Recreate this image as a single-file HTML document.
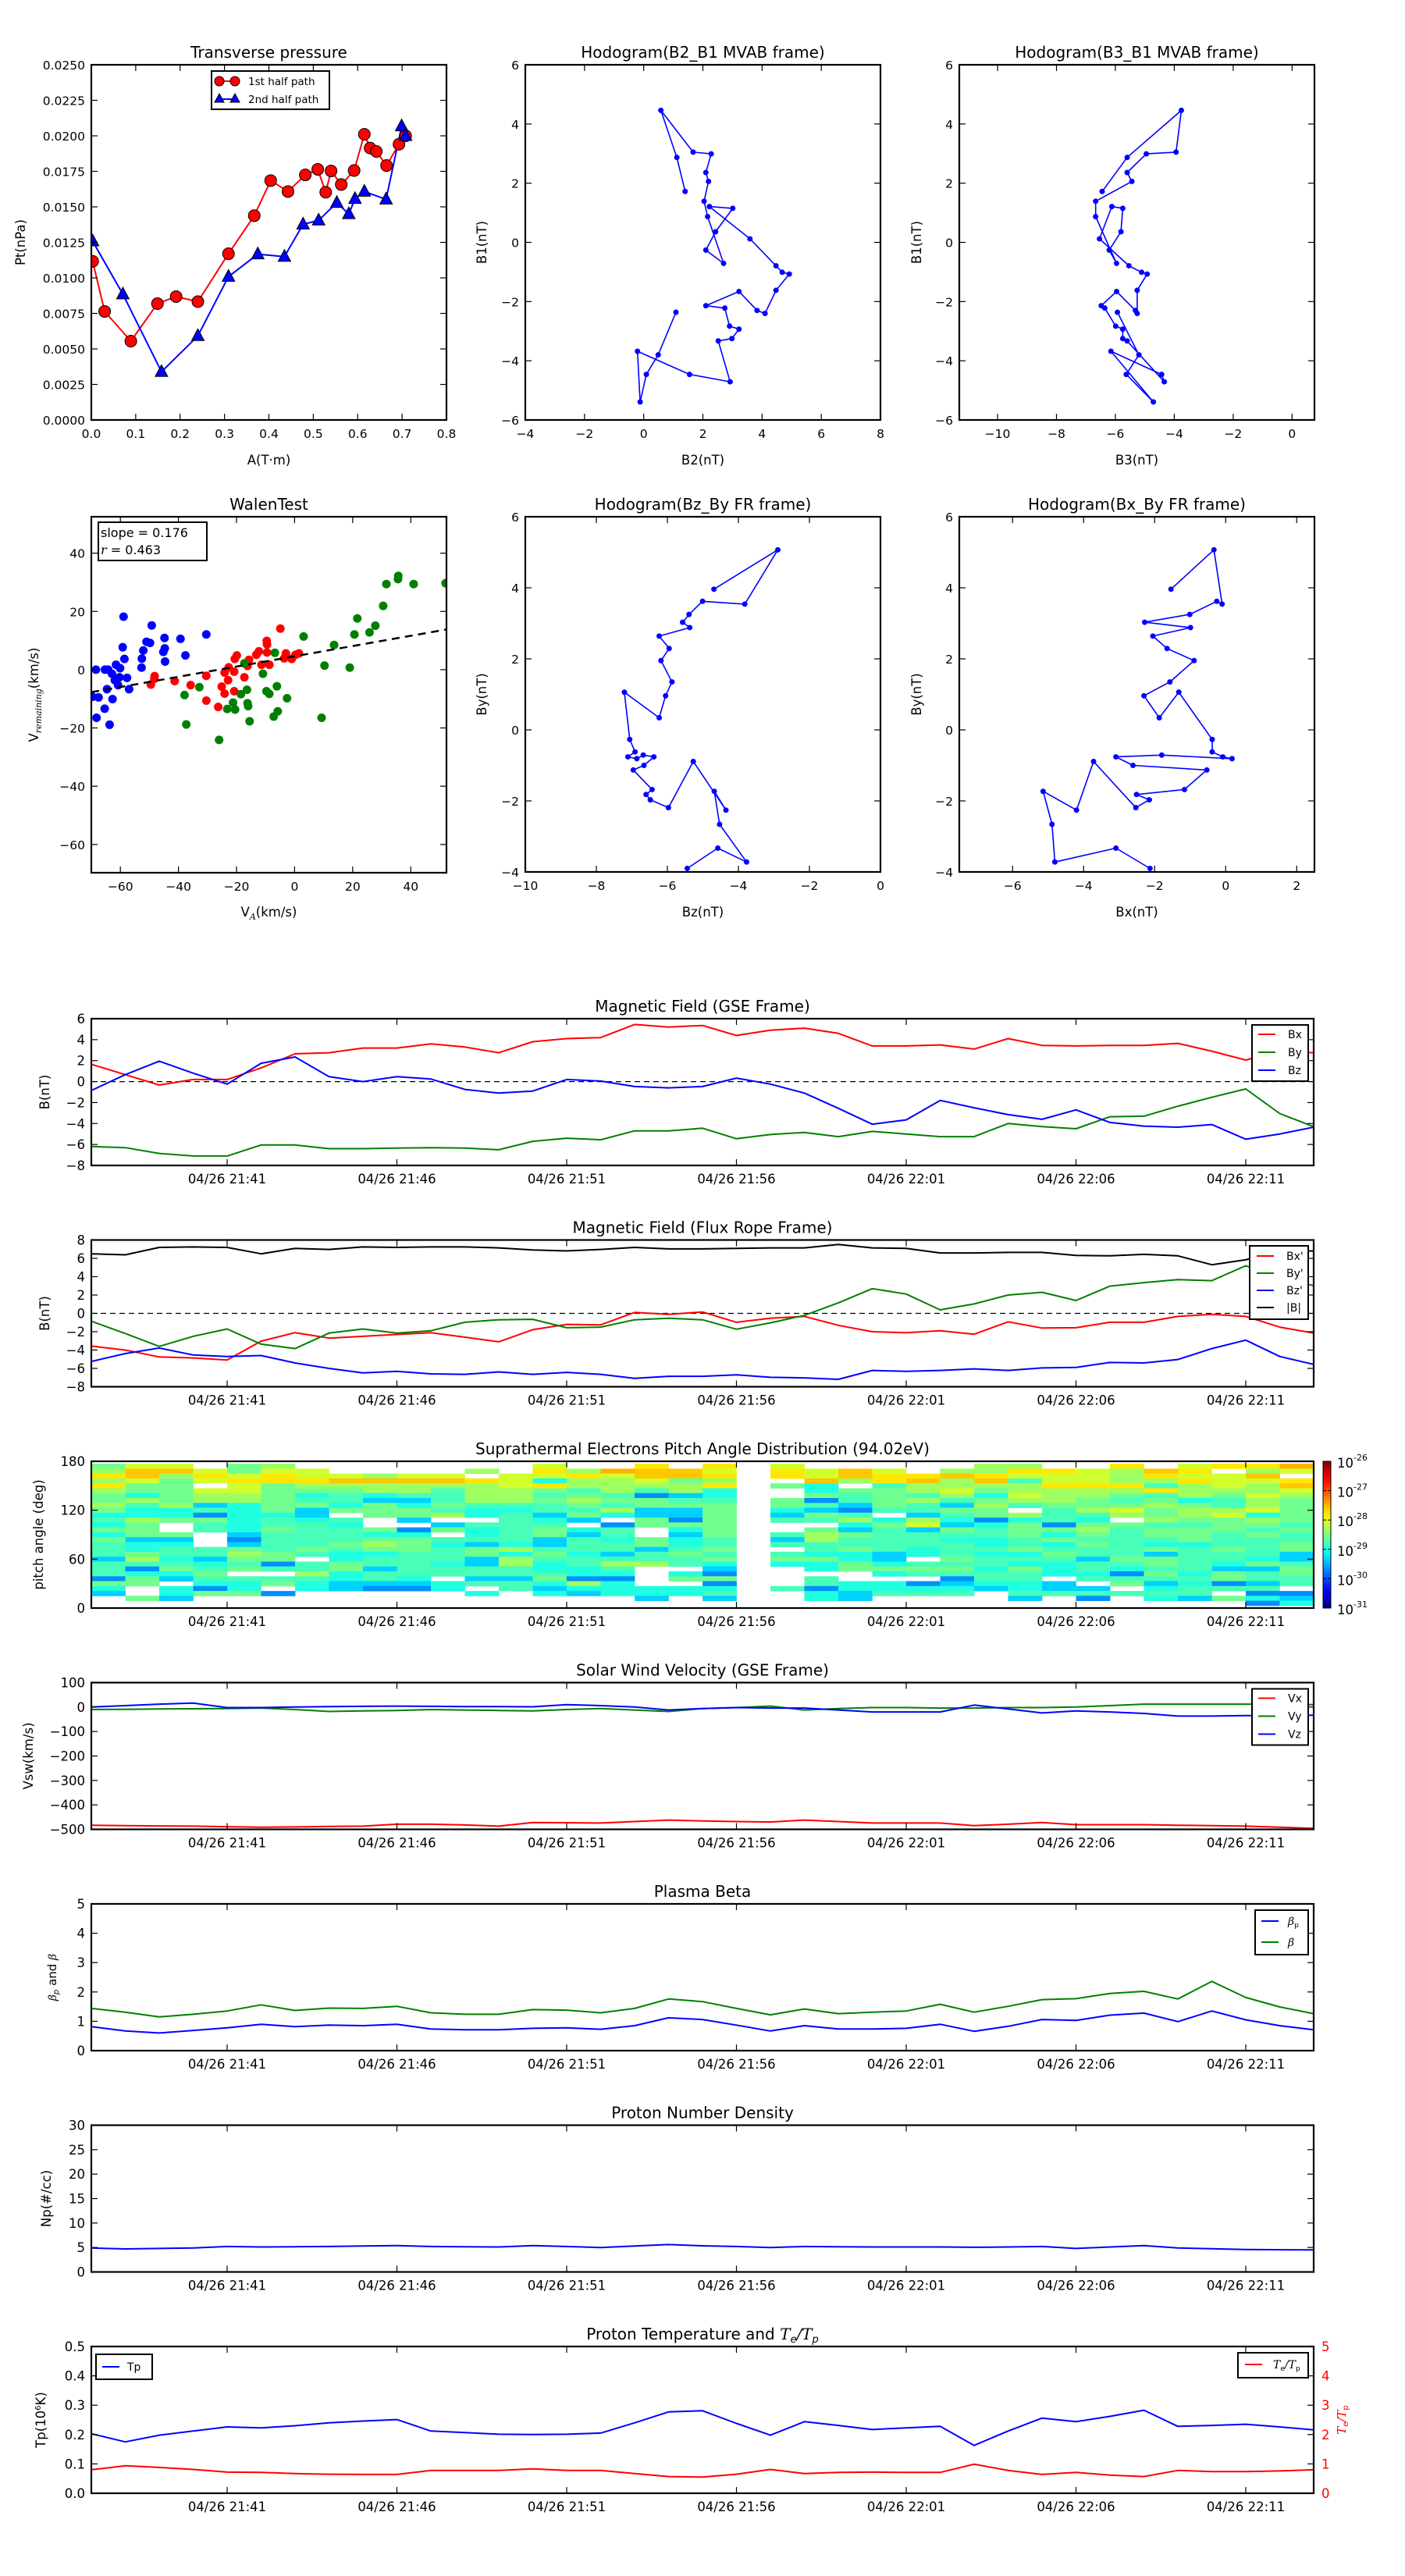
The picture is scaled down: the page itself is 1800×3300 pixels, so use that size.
<!DOCTYPE html>
<html><head><meta charset="utf-8">
<style>
body{margin:0;background:#fff}
svg{display:block;font-family:"DejaVu Sans","Liberation Sans",sans-serif}
</style></head>
<body>
<svg id="fig" width="1800" height="3300" viewBox="0 0 1800 3300"></svg>
<script>
// ---------------- DATA ----------------
const ptA1=[0.003,0.030,0.089,0.149,0.191,0.240,0.309,0.367,0.404,0.443,0.482,0.510,0.528,0.540,0.563,0.592,0.615,0.628,0.642,0.665,0.693,0.708];
const ptP1=[0.01117,0.00764,0.00555,0.00819,0.00868,0.00833,0.0117,0.01438,0.01685,0.01608,0.01725,0.01764,0.01603,0.01753,0.01657,0.01756,0.02011,0.01914,0.0189,0.01791,0.01941,0.02];
const ptA2=[0.003,0.071,0.158,0.240,0.309,0.375,0.435,0.477,0.512,0.553,0.580,0.594,0.615,0.664,0.699,0.708];
const ptP2=[0.01258,0.00885,0.00339,0.00592,0.01009,0.01167,0.0115,0.01377,0.01405,0.01529,0.0145,0.01557,0.01608,0.01553,0.02068,0.02];

const mvB1=[-2.36,-3.8,-4.46,-5.39,-3.68,-4.46,-4.71,-3.33,-3.25,-2.93,-2.83,-2.22,-2.14,-1.66,-2.3,-2.4,-1.62,-1.07,-1.01,-0.79,0.12,1.21,1.15,0.36,-0.26,-0.71,0.87,1.39,2.06,2.36,2.99,3.05,4.46,2.87,1.72];
const mvB2=[1.09,0.49,0.09,-0.12,-0.21,1.55,2.92,2.52,2.98,3.22,2.9,2.74,2.1,3.22,3.83,4.1,4.47,4.92,4.68,4.47,3.59,2.22,3.01,2.43,2.1,2.7,2.16,2.04,2.19,2.1,2.28,1.67,0.58,1.12,1.4];
const mvB3=[-5.93,-5.2,-5.63,-4.71,-6.15,-4.43,-4.34,-5.6,-5.75,-5.75,-5.99,-6.36,-6.48,-5.96,-5.32,-5.26,-5.26,-4.92,-5.11,-5.54,-6.54,-6.12,-5.75,-5.81,-6.21,-5.96,-6.67,-6.67,-5.44,-5.6,-4.95,-3.94,-3.76,-5.6,-6.45];

const frHx=[-2.13,-3.09,-4.81,-4.89,-5.14,-4.2,-3.72,-2.53,-2.15,-2.51,-1.16,-0.53,-2.61,-3.09,-1.8,0.18,-0.08,-0.38,-0.38,-1.32,-1.87,-2.3,-1.57,-0.89,-1.65,-2.05,-0.99,-2.28,-1.01,-0.25,-0.1,-0.33,-1.54];
const frHy=[-3.9,-3.33,-3.72,-2.66,-1.73,-2.26,-0.89,-2.19,-1.97,-1.82,-1.68,-1.13,-1.0,-0.76,-0.71,-0.81,-0.76,-0.62,-0.27,1.06,0.34,0.96,1.35,1.95,2.29,2.64,2.88,3.03,3.25,3.62,3.54,5.07,3.96];
const frHz=[-5.44,-4.58,-3.77,-4.53,-4.68,-4.35,-5.27,-5.97,-6.48,-6.6,-6.43,-6.96,-6.66,-6.38,-6.68,-6.86,-7.11,-6.91,-7.06,-7.21,-6.23,-6.05,-5.87,-6.18,-5.95,-6.23,-5.37,-5.57,-5.39,-5.01,-3.82,-2.89,-4.69];

const walenBlueX=[-68.4,-69.6,-67.5,-68.2,-65.4,-63.7,-62.7,-64.6,-65.3,-64.2,-62.9,-61.5,-60.1,-61.9,-60.8,-60.3,-57.7,-57,-58.6,-59.2,-58.9,-52.7,-52.6,-52.1,-51,-49.8,-49.2,-45.2,-44.7,-44.8,-44.6,-39.3,-37.6,-30.4];
const walenBlueY=[0,-9.3,-9.5,-16.5,-13.4,-18.9,-10.1,-6.7,0,0,-1.4,1.7,0.5,-3.6,-5.3,-2.6,-2.8,-6.7,3.7,7.7,18.2,0.7,3.8,6.6,9.6,9.2,15.2,6.1,7.3,10.9,2.8,10.6,4.9,12.1];
const walenRedX=[-49.5,-48.2,-48.3,-41.3,-35.8,-30.4,-30.4,-26.3,-25.1,-24.1,-24.1,-22.9,-22.7,-20.8,-20.8,-20.6,-19.9,-17.3,-16.2,-15.7,-13.2,-12.3,-11.4,-9.6,-9.5,-9.5,-8.7,-4.9,-3.6,-3,-1,0.3,1.5];
const walenRedY=[-5.1,-2.2,-3.1,-3.9,-5.3,-2.1,-10.6,-12.8,-5.8,-8.2,-1.0,-3.6,0.8,-7.4,-0.7,3.7,4.9,-2.6,1.3,3.4,5.1,6.3,1.7,9.9,8.7,5.9,1.7,14.1,3.9,5.6,3.7,5.1,5.6];
const walenGreenX=[-37.9,-37.3,-32.8,-26,-23.2,-21.2,-20.5,-18.5,-17.3,-16.4,-16.2,-16,-15.5,-10.9,-9.7,-8.7,-7.2,-6.8,-6.1,-5.8,-2.6,3.1,9.3,10.3,13.6,19,20.6,21.6,25.8,27.8,30.5,31.6,35.6,35.7,41,52];
const walenGreenY=[-8.7,-18.8,-6.0,-24.1,-13.5,-11.3,-13.7,-8.4,2.2,-6.9,-11.5,-12.5,-17.7,-1.4,-7.4,-8.3,-16.1,5.8,-5.7,-14.3,-9.8,11.4,-16.5,1.4,8.5,0.7,12.1,17.6,12.8,15.1,21.9,29.4,31.1,32.2,29.4,29.7];
const walenSlope=0.176, walenIntercept=4.6;

const timeTickLabels=['04/26 21:41','04/26 21:46','04/26 21:51','04/26 21:56','04/26 22:01','04/26 22:06','04/26 22:11'];
const timeTickMinutes=[4,9,14,19,24,29,34];

const gseBx=[1.65,0.66,-0.33,0.2,0.2,1.3,2.65,2.75,3.2,3.2,3.6,3.3,2.75,3.8,4.1,4.2,5.45,5.2,5.35,4.4,4.9,5.1,4.6,3.4,3.4,3.5,3.1,4.1,3.45,3.4,3.45,3.45,3.65,2.9,2.05,2.9,2.75];
const gseBy=[-6.2,-6.3,-6.85,-7.1,-7.1,-6.05,-6.05,-6.4,-6.4,-6.35,-6.3,-6.35,-6.5,-5.7,-5.4,-5.55,-4.7,-4.7,-4.45,-5.45,-5.05,-4.85,-5.25,-4.75,-5.0,-5.25,-5.25,-4.0,-4.3,-4.5,-3.35,-3.3,-2.35,-1.5,-0.7,-3.05,-4.3];
const gseBz=[-0.85,0.66,1.95,0.8,-0.24,1.75,2.35,0.47,0,0.47,0.24,-0.75,-1.1,-0.9,0.2,0.05,-0.47,-0.6,-0.47,0.33,-0.24,-1.1,-2.55,-4.07,-3.65,-1.8,-2.5,-3.15,-3.6,-2.7,-3.9,-4.25,-4.35,-4.1,-5.5,-5.0,-4.35];

const frBx=[-3.57,-4.0,-4.75,-4.86,-5.08,-3.03,-2.1,-2.7,-2.5,-2.3,-2.1,-2.6,-3.1,-1.78,-1.2,-1.25,0.1,-0.1,0.15,-0.97,-0.54,-0.33,-1.3,-2.0,-2.1,-1.9,-2.27,-0.92,-1.6,-1.57,-0.97,-0.97,-0.33,-0.1,-0.33,-1.5,-2.15];
const frBy=[-0.86,-2.2,-3.6,-2.5,-1.7,-3.35,-3.84,-2.15,-1.7,-2.15,-1.9,-0.97,-0.7,-0.65,-1.57,-1.5,-0.7,-0.54,-0.7,-1.73,-1.03,-0.22,1.14,2.7,2.1,0.38,1.03,2.0,2.3,1.4,2.97,3.35,3.68,3.57,5.19,3.8,3.03];
const frBz=[-5.24,-4.38,-3.78,-4.54,-4.7,-4.6,-5.4,-6.0,-6.49,-6.32,-6.6,-6.65,-6.38,-6.65,-6.43,-6.65,-7.08,-6.86,-6.86,-6.7,-6.97,-7.03,-7.19,-6.22,-6.32,-6.22,-6.05,-6.22,-5.95,-5.89,-5.35,-5.4,-5.03,-3.84,-2.92,-4.7,-5.57];
const frBt=[6.49,6.38,7.19,7.24,7.19,6.49,7.08,6.97,7.24,7.19,7.24,7.24,7.14,6.92,6.81,6.97,7.19,7.03,7.03,7.08,7.14,7.14,7.51,7.14,7.08,6.59,6.59,6.65,6.65,6.32,6.27,6.43,6.27,5.3,5.84,6.86,6.8];

// PAD: 29 pitch-angle bins (177..3 deg, 6 deg wide, top first) x 36 one-minute columns; '.' = no data
const padRows=[
"577.56.......7..8.8.7.....66..8.788a",
"6997577....6.86a997.8797.66887698.67",
"89687877677.7787998.879889877768779.",
"6757888999987366756..968969477668778",
"855.756666667866668.53.4666688846769",
"6557755566466546463..355675666686667",
"5356653434466454123..545463766546576",
"5656654422466565544.5145645665453465",
"6462355353544454555.5425426455565465",
"5334352555433446225.3214455.46756675",
"3331332.55634253225.254.245644656735",
"46553434.2..432.515.4463631343.65565",
"35.43443..2444.1555...35723515544554",
"55.4354451534534.35..524254556455545",
"355.244433.34524.25.4654444535455454",
"522.144455444243534.2644433454445444",
"433.244565323244534.4444443435433445",
"4344545455456444245..454344544454545",
"4544654334453532454.4332343354424442",
"263255.344426444445.5532.54442554432",
"4443414544326346643.3353444334454354",
"4154544524444334..2..355553534344225",
"4335..6344444433.31....3444433153545",
"1524444343.22511.55..4...144.4444544",
"55.3353222344363..1..43312332.523124",
"3.313.32113.4233333.4133332322.3444.",
"2.3551.....3.323334..32444.444444.11",
".52.............2.2..32....2.1.32532",
"..................................13"];
const padLevelChars="123456789a";
const padLevelLog=[-29.675,-29.35,-28.97,-28.775,-28.575,-28.35,-28.1,-27.76,-27.6,-27.5];
const padBinTop=177, padBinWidth=6;
const cbarTickExp=[-26,-27,-28,-29,-30,-31];

const vx=[-483,-485,-486,-487,-489,-491,-490,-488,-487,-479,-479,-482,-487,-472,-473,-474,-468,-462,-466,-468,-470,-462,-468,-474,-474,-474,-485,-479,-472,-481,-481,-481,-483,-485,-487,-491,-496];
const vy=[-10,-9,-8,-7,-6,-4,-10,-18,-16,-14,-10,-12,-14,-16,-10,-6,-12,-18,-6,-2,4,-12,-6,-2,-2,-4,-4,-2,-2,0,6,12,12,12,12,12,10];
const vz=[0,6,12,16,-2,-2,0,2,3,4,3,2,2,1,10,6,0,-12,-6,-2,-4,-4,-12,-20,-20,-20,8,-8,-24,-16,-20,-26,-37,-37,-35,-35,-33];

const betaP=[0.82,0.67,0.6,0.69,0.78,0.9,0.82,0.87,0.85,0.9,0.74,0.71,0.71,0.76,0.78,0.73,0.85,1.12,1.06,0.87,0.67,0.85,0.74,0.74,0.76,0.9,0.66,0.83,1.06,1.03,1.21,1.28,0.99,1.35,1.05,0.85,0.71];
const betaAll=[1.44,1.31,1.15,1.24,1.35,1.56,1.37,1.45,1.44,1.51,1.29,1.24,1.24,1.4,1.38,1.29,1.44,1.76,1.67,1.44,1.22,1.42,1.26,1.31,1.35,1.58,1.31,1.51,1.74,1.77,1.95,2.02,1.76,2.36,1.81,1.49,1.26];
const npDens=[4.9,4.7,4.8,4.9,5.2,5.1,5.15,5.2,5.3,5.4,5.2,5.15,5.1,5.4,5.2,5.0,5.3,5.6,5.35,5.2,5.0,5.2,5.15,5.1,5.1,5.1,5.05,5.1,5.2,4.8,5.1,5.4,4.9,4.75,4.6,4.55,4.5];
const tpTemp=[0.203,0.175,0.198,0.212,0.226,0.223,0.23,0.24,0.246,0.251,0.212,0.207,0.201,0.2,0.201,0.205,0.24,0.277,0.281,0.238,0.198,0.244,0.231,0.217,0.223,0.228,0.163,0.212,0.256,0.244,0.262,0.283,0.228,0.231,0.235,0.226,0.216];
const teTp=[0.8,0.94,0.88,0.81,0.72,0.71,0.67,0.65,0.64,0.64,0.78,0.78,0.78,0.83,0.78,0.78,0.67,0.57,0.55,0.65,0.81,0.67,0.71,0.72,0.71,0.71,0.99,0.78,0.64,0.71,0.62,0.57,0.78,0.74,0.74,0.76,0.8];

// ---------------- DRAWING ----------------
const NS='http://www.w3.org/2000/svg';
const svg=document.getElementById('fig');
function el(tag,attrs,parent){const e=document.createElementNS(NS,tag);for(const k in attrs)e.setAttribute(k,attrs[k]);(parent||svg).appendChild(e);return e;}
function txt(s,x,y,size,anchor,parent,extra){const t=el('text',Object.assign({x:x,y:y,'font-size':size,'text-anchor':anchor||'middle',fill:'#000'},extra||{}),parent);t.textContent=s;return t;}
function fmtNum(v,d){const s=v.toFixed(d);return s.replace('-','\u2212');}
let clipId=0;
function axes(name,x0,y0,w,h,xmin,xmax,ymin,ymax){
  const g=el('g',{});
  
  
  clipId++;
  const cp=el('clipPath',{id:'c'+clipId},g);
  el('rect',{x:x0,y:y0,width:w,height:h},cp);
  const plot=el('g',{'clip-path':'url(#c'+clipId+')'},g);
  
  
  return {g:g,plot:plot,x0:x0,y0:y0,w:w,h:h,
    sx:v=>x0+(v-xmin)/(xmax-xmin)*w, sy:v=>y0+h-(v-ymin)/(ymax-ymin)*h};
}
function frame(ax){const r=el('rect',{x:ax.x0,y:ax.y0,width:ax.w,height:ax.h,fill:'none',stroke:'#000','stroke-width':2.2},ax.g);
  }
function xTicks(ax,vals,labels,size,noTop){
  const g=el('g',{},ax.g);
  vals.forEach((v,i)=>{const x=ax.sx(v);const b=ax.y0+ax.h;
    el('line',{x1:x,x2:x,y1:b,y2:b-8,stroke:'#000','stroke-width':1.2},g);
    if(!noTop)el('line',{x1:x,x2:x,y1:ax.y0,y2:ax.y0+8,stroke:'#000','stroke-width':1.2},g);
    const t=txt(labels[i],x,b+23,size||16.5,'middle',g);});
}
function yTicks(ax,vals,labels,size,noRight){
  const g=el('g',{},ax.g);
  vals.forEach((v,i)=>{const y=ax.sy(v);
    el('line',{x1:ax.x0,x2:ax.x0+8,y1:y,y2:y,stroke:'#000','stroke-width':1.2},g);
    if(!noRight)el('line',{x1:ax.x0+ax.w,x2:ax.x0+ax.w-8,y1:y,y2:y,stroke:'#000','stroke-width':1.2},g);
    const t=txt(labels[i],ax.x0-8,y+6,size||16.5,'end',g);});
}
function title(ax,s){const t=txt(s,ax.x0+ax.w/2,ax.y0-9,20,'middle',ax.g);return t;}
function yLabel(ax,s,x){const t=txt(s,x,ax.y0+ax.h/2,16.5,'middle',ax.g,{transform:'rotate(-90 '+x+' '+(ax.y0+ax.h/2)+')'});return t;}
function xLabel(ax,s,y){const t=txt(s,ax.x0+ax.w/2,y,16.5,'middle',ax.g);return t;}
function line(ax,xs,ys,color,width,name,dash){
  const pts=xs.map((x,i)=>ax.sx(x).toFixed(1)+','+ax.sy(ys[i]).toFixed(1)).join(' ');
  const p=el('polyline',{points:pts,fill:'none',stroke:color,'stroke-width':width,'stroke-linejoin':'round'},ax.plot);
  if(dash)p.setAttribute('stroke-dasharray',dash);
  return p;
}
function range(a,b,s){const r=[];for(let v=a;v<=b+1e-9;v+=s)r.push(+v.toFixed(6));return r;}
function legendBox(ax,x,y,w,h,entries){
  const g=el('g',{},ax.g);
  el('rect',{x:x,y:y,width:w,height:h,fill:'#fff',stroke:'#000','stroke-width':2},g);
  entries.forEach(e=>{const eg=el('g',{},g);
    el('line',{x1:e.lx,x2:e.lx+22,y1:e.y,y2:e.y,stroke:e.color,'stroke-width':2},eg);
    const t=txt('',e.tx,e.y+5,14,'start',eg);
    if(e.html)t.innerHTML=e.html;else t.textContent=e.label;});
  return g;
}
const tdata=range(0,36,1);

// ===== Transverse pressure =====
(function(){
  const ax=axes('transverse-pressure-chart',117,83,455,455,0,0.8,0,0.025);
  line(ax,ptA1,ptP1,'#ff0000',2,'first-half-path-line');
  line(ax,ptA2,ptP2,'#0000ff',2,'second-half-path-line');
  ptA1.forEach((a,i)=>{const c=el('circle',{cx:ax.sx(a),cy:ax.sy(ptP1[i]),r:7.5,fill:'#ff0000',stroke:'#000','stroke-width':1},ax.plot);
    });
  ptA2.forEach((a,i)=>{const x=ax.sx(a),y=ax.sy(ptP2[i]);
    const p=el('polygon',{points:`${x},${y-9} ${x-8},${y+6} ${x+8},${y+6}`,fill:'#0000ff',stroke:'#000','stroke-width':1},ax.plot);
    });
  frame(ax);
  xTicks(ax,range(0,0.8,0.1),range(0,0.8,0.1).map(v=>v.toFixed(1)),15.5);
  yTicks(ax,range(0,0.025,0.0025),range(0,0.025,0.0025).map(v=>v.toFixed(4)),15.5);
  title(ax,'Transverse pressure');yLabel(ax,'Pt(nPa)',32);xLabel(ax,'A(T\u00b7m)',595);
  const g=el('g',{},ax.g);
  el('rect',{x:271,y:91,width:151,height:49,fill:'#fff',stroke:'#000','stroke-width':2},g);
  el('line',{x1:281,x2:301,y1:104,y2:104,stroke:'#ff0000','stroke-width':2},g);
  el('circle',{cx:281,cy:104,r:6,fill:'#ff0000',stroke:'#000'},g);el('circle',{cx:301,cy:104,r:6,fill:'#ff0000',stroke:'#000'},g);
  txt('1st half path',318,109,13.5,'start',g);
  el('line',{x1:281,x2:301,y1:127,y2:127,stroke:'#0000ff','stroke-width':2},g);
  el('polygon',{points:'281,120 275,131 287,131',fill:'#0000ff',stroke:'#000'},g);el('polygon',{points:'301,120 295,131 307,131',fill:'#0000ff',stroke:'#000'},g);
  txt('2nd half path',318,132,13.5,'start',g);
})();

// ===== Hodograms =====
function hodo(name,x0,y0,xs,ys,xmin,xmax,ymin,ymax,xt,yt,ttl,xl,yl,ylx,xly){
  const ax=axes(name,x0,y0,455,455,xmin,xmax,ymin,ymax);
  line(ax,xs,ys,'#0000ff',1.6,'hodogram-path');
  xs.forEach((x,i)=>{const c=el('circle',{cx:ax.sx(x),cy:ax.sy(ys[i]),r:3.5,fill:'#0000ff'},ax.plot);
    });
  frame(ax);
  xTicks(ax,xt,xt.map(v=>fmtNum(v,0)),15.5);yTicks(ax,yt,yt.map(v=>fmtNum(v,0)),15.5);
  title(ax,ttl);xLabel(ax,xl,xly);yLabel(ax,yl,ylx);
}
hodo('hodogram-b2-b1',673,83,mvB2,mvB1,-4,8,-6,6,range(-4,8,2),range(-6,6,2),'Hodogram(B2_B1 MVAB frame)','B2(nT)','B1(nT)',623,595);
hodo('hodogram-b3-b1',1229,83,mvB3,mvB1,-11.3,0.76,-6,6,range(-10,0,2),range(-6,6,2),'Hodogram(B3_B1 MVAB frame)','B3(nT)','B1(nT)',1180,595);
hodo('hodogram-bz-by',673,662,frHz,frHy,-10,0,-4,6,range(-10,0,2),range(-4,6,2),'Hodogram(Bz_By FR frame)','Bz(nT)','By(nT)',623,1174);
hodo('hodogram-bx-by',1229,662,frHx,frHy,-7.5,2.5,-4,6,range(-6,2,2),range(-4,6,2),'Hodogram(Bx_By FR frame)','Bx(nT)','By(nT)',1180,1174);

// ===== Walen test =====
(function(){
  const xmin=-70,xmax=52.3;
  const ax=axes('walen-test-chart',117,662,455,456,xmin,xmax,-69.7,52.5);
  function pts(xs,ys,color,nm){xs.forEach((x,i)=>{const c=el('circle',{cx:ax.sx(x),cy:ax.sy(ys[i]),r:5.5,fill:color},ax.plot);
    });}
  pts(walenBlueX,walenBlueY,'#0000ff','walen-point-blue');
  pts(walenRedX,walenRedY,'#ff0000','walen-point-red');
  pts(walenGreenX,walenGreenY,'#008000','walen-point-green');
  line(ax,[xmin,xmax],[xmin*walenSlope+walenIntercept,xmax*walenSlope+walenIntercept],'#000',2.5,'regression-line','10,7');
  frame(ax);
  xTicks(ax,range(-60,40,20),range(-60,40,20).map(v=>fmtNum(v,0)),15.5);
  yTicks(ax,range(-60,40,20),range(-60,40,20).map(v=>fmtNum(v,0)),15.5);
  title(ax,'WalenTest');
  const xl=xLabel(ax,'',1174);xl.innerHTML='V<tspan font-size="11" font-style="italic" font-family="DejaVu Serif,serif" dy="4">A</tspan><tspan dy="-4">(km/s)</tspan>';
  const yl=yLabel(ax,'',49);yl.innerHTML='V<tspan font-size="11" font-style="italic" font-family="DejaVu Serif,serif" dy="4">remaining</tspan><tspan dy="-4">(km/s)</tspan>';
  const g=el('g',{},ax.g);
  el('rect',{x:126,y:669,width:139,height:49,fill:'#fff',stroke:'#000','stroke-width':2},g);
  txt('slope = 0.176',129,688,16,'start',g);
  const r=txt('',129,710,16,'start',g);r.innerHTML='<tspan font-style="italic" font-family="DejaVu Serif,serif">r</tspan> = 0.463';
})();

// ===== Time panels =====
function panelTop(i){return 1305+283.5*i;}
function timeAxes(name,i,ymin,ymax){return axes(name,117,panelTop(i),1566,188,0,36,ymin,ymax);}
function timeTicks(ax){xTicks(ax,timeTickMinutes,timeTickLabels,16.5);}

// GSE
(function(){
  const ax=timeAxes('magnetic-field-gse-chart',0,-8,6);
  line(ax,[0,36],[0,0],'#000',1.3,'zero-line','7,5');
  line(ax,tdata,gseBx,'#ff0000',2,'bx-line');line(ax,tdata,gseBy,'#008000',2,'by-line');line(ax,tdata,gseBz,'#0000ff',2,'bz-line');
  frame(ax);timeTicks(ax);yTicks(ax,range(-8,6,2),range(-8,6,2).map(v=>fmtNum(v,0)));
  title(ax,'Magnetic Field (GSE Frame)');yLabel(ax,'B(nT)',63);
  legendBox(ax,1604,1313,72,72,[{color:'#ff0000',label:'Bx',y:1325,lx:1612,tx:1650},{color:'#008000',label:'By',y:1348,lx:1612,tx:1650},{color:'#0000ff',label:'Bz',y:1371,lx:1612,tx:1650}]);
})();
// Flux rope
(function(){
  const ax=timeAxes('magnetic-field-flux-rope-chart',1,-8,8);
  line(ax,[0,36],[0,0],'#000',1.3,'zero-line','7,5');
  line(ax,tdata,frBx,'#ff0000',2,'bx-prime-line');line(ax,tdata,frBy,'#008000',2,'by-prime-line');
  line(ax,tdata,frBz,'#0000ff',2,'bz-prime-line');line(ax,tdata,frBt,'#000',2,'b-magnitude-line');
  frame(ax);timeTicks(ax);yTicks(ax,range(-8,8,2),range(-8,8,2).map(v=>fmtNum(v,0)));
  title(ax,'Magnetic Field (Flux Rope Frame)');yLabel(ax,'B(nT)',63);
  legendBox(ax,1601,1596,75,94,[{color:'#ff0000',label:"Bx'",y:1609,lx:1610,tx:1648},{color:'#008000',label:"By'",y:1631,lx:1610,tx:1648},{color:'#0000ff',label:"Bz'",y:1653,lx:1610,tx:1648},{color:'#000',label:'|B|',y:1675,lx:1610,tx:1648}]);
})();
// PAD
function jet(t){t=Math.max(0,Math.min(1,t));const c=v=>Math.round(255*Math.max(0,Math.min(1,v)));
  return 'rgb('+c(1.5-Math.abs(4*t-3))+','+c(1.5-Math.abs(4*t-2))+','+c(1.5-Math.abs(4*t-1))+')';}
(function(){
  const ax=timeAxes('pitch-angle-distribution-chart',2,0,180);
  padRows.forEach((row,r)=>{
    const a1=padBinTop-padBinWidth*r, a0=a1-padBinWidth;
    for(let c=0;c<row.length;c++){const ch=row[c];const k=padLevelChars.indexOf(ch);if(k<0)continue;
      const x=ax.sx(c),y=ax.sy(a1);
      const rc=el('rect',{x:x.toFixed(1),y:y.toFixed(1),width:(ax.sx(c+1)-x+0.4).toFixed(1),height:(ax.sy(a0)-y+0.4).toFixed(1),fill:jet((padLevelLog[k]+31)/5)},ax.plot);
      
      }
  });
  frame(ax);timeTicks(ax);yTicks(ax,[0,60,120,180],['0','60','120','180']);
  title(ax,'Suprathermal Electrons Pitch Angle Distribution (94.02eV)');yLabel(ax,'pitch angle (deg)',55);
  // colorbar
  const cg=el('g',{});
  const grad=el('linearGradient',{id:'jetgrad',x1:0,y1:1,x2:0,y2:0},cg);
  for(let i=0;i<=20;i++)el('stop',{offset:(i/20),'stop-color':jet(i/20)},grad);
  const top=panelTop(2);
  el('rect',{x:1695,y:top,width:10,height:188,fill:'url(#jetgrad)',stroke:'#000','stroke-width':1},cg);
  cbarTickExp.forEach((e,i)=>{const y=top+188*(-26-e)/5;
    el('line',{x1:1695,x2:1699,y1:y,y2:y,stroke:'#000'},cg);el('line',{x1:1701,x2:1705,y1:y,y2:y,stroke:'#000'},cg);
    const t=txt('',1713,y+8,16.5,'start',cg);t.innerHTML='10<tspan font-size="11" dy="-9">'+String(e).replace('-','-')+'</tspan>';
    });
})();
// Solar wind
(function(){
  const ax=timeAxes('solar-wind-velocity-chart',3,-500,100);
  line(ax,tdata,vx,'#ff0000',2,'vx-line');line(ax,tdata,vy,'#008000',2,'vy-line');line(ax,tdata,vz,'#0000ff',2,'vz-line');
  frame(ax);timeTicks(ax);yTicks(ax,range(-500,100,100),range(-500,100,100).map(v=>fmtNum(v,0)));
  title(ax,'Solar Wind Velocity (GSE Frame)');yLabel(ax,'Vsw(km/s)',42);
  const t=panelTop(3);
  legendBox(ax,1604,t+8,72,72,[{color:'#ff0000',label:'Vx',y:t+20,lx:1612,tx:1650},{color:'#008000',label:'Vy',y:t+43,lx:1612,tx:1650},{color:'#0000ff',label:'Vz',y:t+66,lx:1612,tx:1650}]);
})();
// Plasma beta
(function(){
  const ax=timeAxes('plasma-beta-chart',4,0,5);
  line(ax,tdata,betaP,'#0000ff',2,'beta-p-line');line(ax,tdata,betaAll,'#008000',2,'beta-line');
  frame(ax);timeTicks(ax);yTicks(ax,range(0,5,1),range(0,5,1).map(v=>String(v)));
  title(ax,'Plasma Beta');
  const yl=yLabel(ax,'',72);yl.innerHTML='<tspan font-style="italic" font-family="DejaVu Serif,serif" font-size="14">\u03b2</tspan><tspan font-size="10" font-style="italic" dy="3">p</tspan><tspan dy="-3" font-size="15"> and </tspan><tspan font-style="italic" font-family="DejaVu Serif,serif" font-size="14">\u03b2</tspan>';
  const t=panelTop(4);
  legendBox(ax,1608,t+8,68,57,[{color:'#0000ff',html:'<tspan font-style="italic" font-family="DejaVu Serif,serif">\u03b2</tspan><tspan font-size="9" dy="3">p</tspan>',y:t+22,lx:1616,tx:1650},{color:'#008000',html:'<tspan font-style="italic" font-family="DejaVu Serif,serif">\u03b2</tspan>',y:t+49,lx:1616,tx:1650}]);
})();
// Density
(function(){
  const ax=timeAxes('proton-density-chart',5,0,30);
  line(ax,tdata,npDens,'#0000ff',2,'density-line');
  frame(ax);timeTicks(ax);yTicks(ax,range(0,30,5),range(0,30,5).map(v=>String(v)));
  title(ax,'Proton Number Density');yLabel(ax,'Np(#/cc)',65);
})();
// Temperature
(function(){
  const ax=timeAxes('proton-temperature-chart',6,0,0.5);
  const top=panelTop(6);
  const sy2=v=>top+188-v/5*188;
  line(ax,tdata,tpTemp,'#0000ff',2,'tp-line');
  const pts=tdata.map((x,i)=>ax.sx(x).toFixed(1)+','+sy2(teTp[i]).toFixed(1)).join(' ');
  const p=el('polyline',{points:pts,fill:'none',stroke:'#ff0000','stroke-width':2},ax.plot);
  
  frame(ax);timeTicks(ax);yTicks(ax,range(0,0.5,0.1),range(0,0.5,0.1).map(v=>v.toFixed(1)),16.5,true);
  const rg=el('g',{},ax.g);
  [0,1,2,3,4,5].forEach(v=>{const y=sy2(v);el('line',{x1:1683,x2:1675,y1:y,y2:y,stroke:'#000','stroke-width':1.2},rg);
    txt(String(v),1693,y+6,16.5,'start',rg,{fill:'#ff0000'});});
  const tt=title(ax,'');tt.innerHTML='Proton Temperature and <tspan font-style="italic" font-family="DejaVu Serif,serif">T</tspan><tspan font-size="13" font-style="italic" dy="4">e</tspan><tspan dy="-4" font-style="italic" font-family="DejaVu Serif,serif">/T</tspan><tspan font-size="13" font-style="italic" dy="4">p</tspan>';
  const yl=yLabel(ax,'',58);yl.innerHTML='Tp(10<tspan font-size="10" dy="-6">6</tspan><tspan dy="6">K)</tspan>';
  const rx=1724,ry=top+94;
  const r=txt('',rx,ry,15,'middle',ax.g,{transform:'rotate(-90 '+rx+' '+ry+')',fill:'#ff0000'});
  r.innerHTML='<tspan font-style="italic" font-family="DejaVu Serif,serif">T</tspan><tspan font-size="10" dy="3">e</tspan><tspan dy="-3" font-style="italic" font-family="DejaVu Serif,serif">/T</tspan><tspan font-size="10" dy="3">p</tspan>';
  
  legendBox(ax,123,top+10,72,32,[{color:'#0000ff',label:'Tp',y:top+26,lx:131,tx:163}]);
  legendBox(ax,1586,top+8,90,32,[{color:'#ff0000',html:'<tspan font-style="italic" font-family="DejaVu Serif,serif">T</tspan><tspan font-size="9" dy="3">e</tspan><tspan dy="-3" font-style="italic" font-family="DejaVu Serif,serif">/T</tspan><tspan font-size="9" dy="3">p</tspan>',y:top+23,lx:1595,tx:1631}]);
})();
</script>
</body></html>
